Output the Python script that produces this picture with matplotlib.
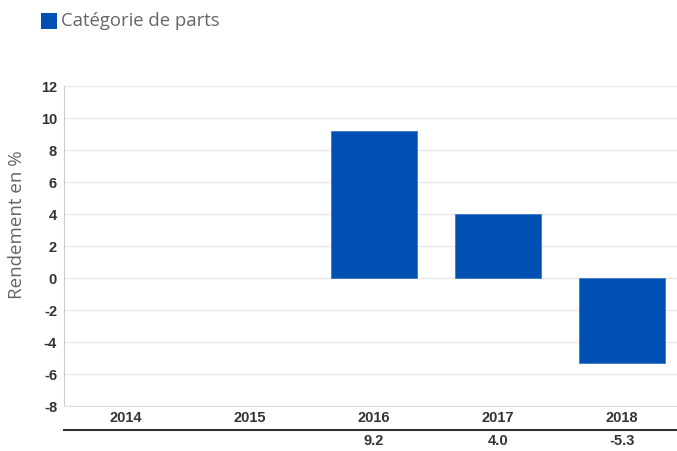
import matplotlib
matplotlib.use("Agg")
import matplotlib.pyplot as plt
from matplotlib.transforms import blended_transform_factory
from matplotlib.patches import Rectangle
from matplotlib.lines import Line2D

years = ["2014", "2015", "2016", "2017", "2018"]
values = [None, None, 9.2, 4.0, -5.3]
value_labels = ["", "", "9.2", "4.0", "-5.3"]
yticks = [-8, -6, -4, -2, 0, 2, 4, 6, 8, 10, 12]

W, H = 677, 451
fig = plt.figure(figsize=(W / 100, H / 100), dpi=100)
left, right, top, bottom = 64, 684, 86, 406
ax = fig.add_axes([left / W, (H - bottom) / H, (right - left) / W, (bottom - top) / H])

xs = list(range(len(years)))
for x, v in zip(xs, values):
    if v is not None:
        ax.bar(x, v, width=0.69, color="#0050b4", edgecolor="#3a78c8", linewidth=0.6, zorder=3)

ax.set_xlim(-0.5, len(years) - 0.5)
ax.set_ylim(-8, 12)
ax.set_yticks(yticks)
ax.set_yticklabels([str(t) for t in yticks], fontfamily="Liberation Sans", fontweight="bold",
                   fontsize=10.5, color="#333333")
ax.tick_params(axis="y", length=0, pad=5)
ax.set_xticks([])
ax.grid(axis="y", color="#e8e8e8", linewidth=1, zorder=0)
for s in ["top", "right"]:
    ax.spines[s].set_visible(False)
ax.spines["left"].set_color("#cccccc")
ax.spines["bottom"].set_color("#dddddd")

fig.text(17 / W, (H - 225) / H, "Rendement en %", rotation=90, ha="center", va="center",
         fontfamily="Open Sans", fontsize=13.5, color="#666666")

# table below
tr = blended_transform_factory(ax.transData, fig.transFigure)
for x, yl, vl in zip(xs, years, value_labels):
    fig.text(x, (H - 418) / H, yl, transform=tr, ha="center", va="center",
             fontfamily="Liberation Sans", fontweight="bold", fontsize=10.5, color="#333333")
    fig.text(x, (H - 441) / H, vl, transform=tr, ha="center", va="center",
             fontfamily="Liberation Sans", fontweight="bold", fontsize=10.5, color="#333333")
fig.add_artist(Line2D([left / W, 1], [(H - 430) / H] * 2, color="#333333", linewidth=1.5,
                      transform=fig.transFigure))

# legend
fig.add_artist(Rectangle((41 / W, (H - 29) / H), 16 / W, 16 / H, transform=fig.transFigure,
                         facecolor="#0050b4", edgecolor="none"))
fig.text(61 / W, (H - 21) / H, "Catégorie de parts", fontfamily="Open Sans", fontsize=13.3,
         color="#666666", ha="left", va="center")

fig.savefig("out.png", dpi=100)
